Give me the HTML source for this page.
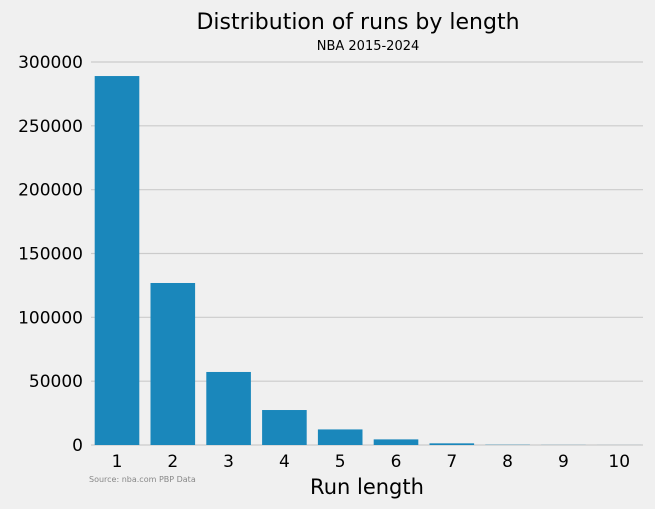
<!DOCTYPE html>
<html><head><meta charset="utf-8"><style>
body{margin:0;background:#f0f0f0;}
svg{display:block;font-family:"DejaVu Sans","Liberation Sans",sans-serif;}
</style></head><body>
<svg id="chart" width="655" height="509">
<rect width="655" height="509" fill="#f0f0f0"/>
<text x="358" y="29" font-size="22" text-anchor="middle" fill="#000">Distribution of runs by length</text>
<text x="368" y="50" font-size="13" text-anchor="middle" fill="#000">NBA 2015-2024</text>
<g id="grid"></g><g id="bars"></g><g id="xt"></g>
<text x="367" y="494" font-size="21" text-anchor="middle" fill="#000">Run length</text>
<text x="89" y="482" font-size="8" fill="#888">Source: nba.com PBP Data</text>
</svg>
<script>
const categories=["1","2","3","4","5","6","7","8","9","10"];
const values=[289000,126900,57200,27400,12200,4400,1300,200,80,30];
const yTicks=[0,50000,100000,150000,200000,250000,300000];
const ns="http://www.w3.org/2000/svg";
const y0=445,yTop=62,yMax=300000;
const y=v=>y0-(v/yMax)*(y0-yTop);
const x=i=>117+i*55.8;
function mk(t,a,p){const e=document.createElementNS(ns,t);for(const k in a)e.setAttribute(k,a[k]);p.appendChild(e);return e;}
const g=document.getElementById('grid');
yTicks.forEach(v=>{
 const l=mk('line',{x1:91,x2:643,y1:y(v),y2:y(v),stroke:'#cbcbcb','stroke-width':1.2},g);
 
 
 const t=mk('text',{x:83,y:y(v)+6,'font-size':17,'text-anchor':'end',fill:'#000'},g);
 t.textContent=v;
 
 
});
const b=document.getElementById('bars'),xt=document.getElementById('xt');
values.forEach((v,i)=>{
 const r=mk('rect',{x:x(i)-22.3,y:y(v),width:44.6,height:y0-y(v),fill:'#1a87bb'},b);
 
 
 const t=mk('text',{x:x(i),y:467,'font-size':17,'text-anchor':'middle',fill:'#000'},xt);
 t.textContent=categories[i];
 
 
});
</script>
</body></html>
